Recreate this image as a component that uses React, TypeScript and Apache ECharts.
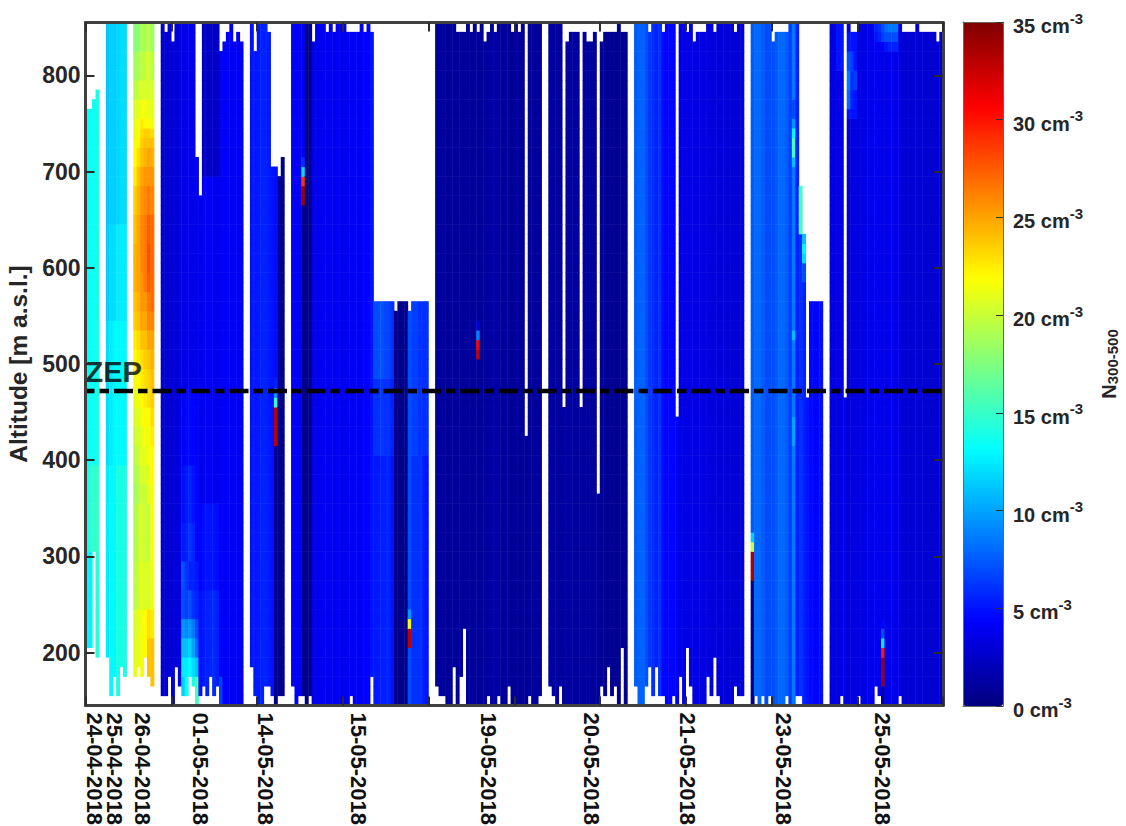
import React, { useEffect, useRef } from "react";
import * as echarts from "echarts";

const altitudes = Array.from({ length: 71 }, (_, i) => String(150 + i * 10));
const columns = Array.from({ length: 250 }, (_, i) => String(i));

const dateLabels: Record<number, string> = {
  2: "24-04-2018", 8: "25-04-2018", 16: "26-04-2018", 33: "01-05-2018", 52: "14-05-2018",
  79: "15-05-2018", 117: "19-05-2018", 147: "20-05-2018", 175: "21-05-2018", 203: "23-05-2018", 232: "25-05-2018",
};
const colourTicks = [0, 5, 10, 15, 20, 25, 30, 35];
const jet = ["#00007f", "#0000ff", "#007fff", "#00ffff", "#7fff7f", "#ffff00", "#ff7f00", "#ff0000", "#7f0000"];
const zepAltitude = 472;

// highest altitude row with data in each column (-1: no data)
const columnTop = [
  61,61,62,63,-1,-1,70,70,70,70,
  70,70,-1,-1,70,70,70,70,70,70,
  -1,-1,70,69,70,68,70,70,70,70,
  70,70,56,52,70,70,70,70,70,67,
  68,69,70,68,69,68,-1,-1,70,67,
  70,70,70,69,55,55,54,56,-1,-1,
  70,70,70,70,70,70,68,70,70,70,
  69,70,69,70,70,70,69,69,69,69,
  70,69,70,69,41,41,41,41,41,41,
  40,41,41,41,40,41,41,41,41,41,
  -1,-1,70,70,70,70,70,70,69,69,
  69,70,69,70,69,70,68,69,70,69,
  70,70,70,70,69,70,69,70,27,70,
  70,70,70,-1,-1,70,70,70,70,30,
  68,69,69,69,30,69,68,68,69,21,
  68,69,69,69,69,70,69,69,-1,-1,
  70,70,70,70,69,70,70,70,69,70,
  70,70,29,70,70,69,70,68,69,69,
  69,70,70,69,70,70,70,70,70,69,
  70,70,-1,-1,70,70,70,70,70,70,
  68,69,69,69,69,70,70,70,53,48,
  31,41,41,41,41,-1,-1,70,70,70,
  70,31,70,69,69,70,70,70,70,70,
  70,70,70,70,70,70,70,70,69,69,
  69,69,70,69,69,69,69,69,68,69,
];

// lowest altitude row with data in each column
const columnBottom = [
  6,6,16,5,0,0,5,1,3,1,
  4,3,0,0,3,4,3,5,3,2,
  0,0,1,1,3,0,4,2,1,1,
  3,2,0,1,2,1,3,1,2,0,
  0,0,0,0,0,0,0,0,4,1,
  0,0,2,2,1,0,1,1,0,0,
  2,0,1,1,0,1,0,0,0,0,
  0,0,0,0,0,0,0,1,0,0,
  0,0,0,3,0,0,0,0,0,0,
  0,0,0,0,0,0,0,0,0,0,
  0,0,2,1,1,0,0,4,0,3,
  8,0,0,0,0,0,0,1,0,0,
  1,0,0,2,0,0,0,0,0,1,
  0,0,1,0,0,2,1,0,2,0,
  0,0,0,0,0,0,0,0,0,0,
  2,1,4,1,2,0,6,0,0,0,
  2,0,0,2,4,1,4,1,1,0,
  0,1,0,3,0,6,2,0,0,0,
  0,3,1,5,1,0,0,0,0,2,
  1,1,0,0,0,1,0,1,0,1,
  0,0,0,0,1,0,0,1,1,0,
  0,0,0,0,0,0,0,0,0,0,
  1,0,0,0,0,1,0,0,0,0,
  2,1,0,0,0,0,0,1,0,0,
  0,0,0,0,0,0,0,0,0,0,
];

// typical concentration of each column
const columnBase = [
  13.2,13.5,13.5,14,0,0,12,12,12,12.5,
  12.5,12.5,0,0,20,20,20,20,20,20,
  0,0,2.8,2.8,3,3,3.1,3.3,3.6,3.6,
  3.7,3.7,3.9,3.9,3.8,4.2,4,4,3.8,4,
  4.2,4.2,4.1,4.2,4,3.8,0,0,5,5.2,
  5.2,5.5,5.5,5.2,5,4.8,0.5,0.5,0,0,
  4.2,4.2,4,4,0.4,0.4,3.6,3.8,3.9,4,
  3.8,3.9,3.7,4,3.8,3.9,3.9,4.2,4,4.2,
  4.2,4.4,4.4,5,7,7.2,7.5,6.5,6.5,6,
  0.4,0.4,0.4,0.4,7,6.5,6.5,6,6,6,
  0,0,1,1,1,0.9,1,1.1,1,1,
  0.9,1,1,0.9,1,1,1.1,1.1,1.3,1.3,
  1.1,1,1,1,0.9,1,0.9,0.9,0.9,1,
  1,1,1,0,0,1.2,1.2,1.2,1.2,1,
  1.2,1.2,1.1,1.1,1,1.1,1.1,1,1,1,
  0.9,0.8,0.8,0.7,0.7,0.7,0.7,0.7,0,0,
  7.5,7.8,7.8,7.2,6.2,6,5.5,6,4.6,4.5,
  4.5,4.5,4,3.6,3.6,3.5,3.5,3.6,3.5,3.4,
  3.4,3.3,3.2,3.2,3.2,3.2,3.1,3.1,3,3,
  3,3,0,0,7.5,8,8,7.5,7,7,
  7,7.5,8,8,7.5,6.5,8.5,5.5,6,5.5,
  5,4.6,4.5,4.5,4.8,0,0,3.4,3.4,3.4,
  3.6,3.5,3,3.2,3.4,3.4,3.5,3.6,3.7,3.8,
  4,3.8,3.6,3.6,3.8,3.8,3.6,3.4,3,2.9,
  2.9,3,3,3,2.9,2.9,2.8,2.8,3,3,
];

// [first column, first row, last row, value of each consecutive column]
const profileBands: [number, number, number, number[]][] = [
  // 24-04
  [0, 5, 15, [12.8, 12.8, 13, 14.5]],
  [0, 16, 24, [13.8, 14.4, 14.8, 15]],
  [0, 25, 63, [13.2, 13.5, 13.5, 14]],
  // 25-04
  [6, 50, 70, [11.2, 11.5, 11.5, 11.8, 12, 12]],
  [6, 40, 49, [11.5, 12, 12, 12.5, 12.5, 12.5]],
  [6, 25, 39, [12, 12.5, 13, 13, 13, 13]],
  [6, 1, 24, [12.5, 13, 13, 14, 14, 14]],
  // 26-04
  [14, 68, 70, [17.5, 18, 19, 19, 19.5, 18.5]],
  [14, 65, 67, [18.5, 19, 19.5, 20, 20.5, 19.5]],
  [14, 63, 64, [19.5, 20, 20.5, 20.5, 20.5, 20.5]],
  [14, 61, 62, [20.5, 21, 21.5, 21.5, 21, 21]],
  [14, 60, 60, [21, 21.5, 22.5, 22, 22, 21.5]],
  [14, 59, 59, [21, 22, 23, 23.5, 23.5, 23]],
  [14, 58, 58, [21.5, 22, 23.5, 24, 24, 24]],
  [14, 56, 57, [22, 23, 24, 24.5, 25, 24.5]],
  [14, 54, 55, [22.5, 24, 25, 25.5, 25.5, 25.5]],
  [14, 51, 53, [23.5, 24.5, 25.5, 26, 26.5, 26]],
  [14, 48, 50, [24, 25, 26, 26.5, 27.5, 27]],
  [14, 45, 47, [24.5, 25, 26, 26.5, 28, 27]],
  [14, 43, 44, [24.5, 25, 25.5, 26.5, 27.5, 27]],
  [14, 41, 42, [24, 24.5, 25.5, 25.5, 26.5, 27]],
  [14, 39, 40, [23.5, 24, 25, 25, 26, 26]],
  [14, 37, 38, [22.5, 23, 24, 24, 25, 25]],
  [14, 35, 36, [22, 22.5, 23, 23.5, 24, 24.5]],
  [14, 33, 34, [21.5, 22, 22.5, 23, 23.5, 24]],
  [14, 31, 32, [21, 21.5, 22, 22.5, 23, 23.5]],
  [14, 29, 30, [20.5, 21, 21.5, 22, 22, 23]],
  [14, 27, 28, [20, 20.5, 21, 21.5, 21.5, 22.5]],
  [14, 25, 26, [19.5, 20, 21, 21, 21.5, 22]],
  [14, 23, 24, [19, 19.5, 20.5, 20.5, 21, 22]],
  [14, 21, 22, [18.5, 19.5, 20, 20, 21, 21.5]],
  [14, 15, 20, [19, 20, 20.5, 20, 20, 21.5]],
  [14, 10, 14, [19.5, 20, 21, 20.5, 20.5, 21.5]],
  [14, 7, 9, [20.5, 21, 21.5, 22, 23, 22.5]],
  [14, 2, 6, [21, 21, 21.5, 22, 24, 24]],
  // 01-05 low-level plume
  [28, 25, 32, [4.4, 4.6, 4.6, 4.4, 4.2]],
  [28, 19, 24, [4.8, 5.2, 5.6, 5, 4.5]],
  [28, 15, 18, [5.2, 5.5, 6.2, 5.5, 4.5]],
  [28, 12, 14, [7.2, 6, 5.5, 5.5, 5.2]],
  [28, 9, 11, [7, 6.5, 7, 6, 5.6]],
  [28, 7, 8, [9.5, 9, 9.5, 8.5, 7]],
  [28, 5, 6, [11, 11, 11.5, 10, 8]],
  [28, 3, 4, [12.5, 12.5, 13, 12, 11]],
  [28, 0, 2, [11.5, 13.5, 13, 14, 15.5]],
  [34, 55, 70, [2.4, 2.4, 2.4, 2.5, 2.5]],
  [33, 12, 20, [4.4, 4.8, 5, 5, 5, 4.8]],
  [33, 0, 11, [4.8, 5.2, 5.5, 5.6, 5.8, 5.4]],
  [39, 0, 2, [6.5]],
  // 15-05 block, lower part
  [84, 34, 41, [7, 7, 7.2, 6.8, 6.6, 6]],
  [84, 26, 33, [6, 6, 6.3, 6, 6, 5.5]],
  [84, 0, 25, [5.2, 5.2, 5.4, 5.5, 5.5, 5]],
  [95, 0, 25, [6, 6, 6, 5.5, 5]],
  // high-level patches on 25-05
  [222, 68, 69, [5, 5, 5]],
  [222, 66, 67, [7, 6.5, 5]],
  [222, 64, 65, [8.5, 6, 6.5]],
  [222, 62, 63, [8, 5.5, 5]],
  [222, 61, 61, [5, 5, 5]],
  [219, 66, 70, [5, 5]],
  [230, 70, 70, [5.5, 6, 7, 8, 8.5, 8.5, 8.5]],
  [230, 69, 69, [5, 5.5, 6.5, 7, 7, 7, 7]],
  [230, 68, 68, [4, 4, 4.2, 5, 5.5, 5.5, 5.5]],
  // spikes and dark columns
  [63, 0, 51, [0.4]],
  [63, 57, 70, [4]],
  [63, 56, 56, [6]],
  [63, 55, 55, [12]],
  [63, 54, 54, [29]],
  [63, 52, 53, [34]],
  [55, 0, 26, [0.5]],
  [55, 27, 30, [33]],
  [55, 31, 31, [15]],
  [55, 32, 32, [9.5]],
  [55, 33, 33, [5.5]],
  [114, 39, 39, [3]],
  [114, 38, 38, [8.8]],
  [114, 37, 37, [31]],
  [114, 36, 36, [33]],
  [94, 9, 9, [9.5]],
  [94, 8, 8, [21.5]],
  [94, 6, 7, [33]],
  [194, 0, 12, [0.5]],
  [194, 13, 15, [33.5]],
  [194, 16, 16, [20]],
  [194, 17, 17, [11.5]],
  [232, 0, 1, [1]],
  [232, 2, 4, [34]],
  [232, 5, 5, [30]],
  [232, 6, 6, [12.5]],
  [232, 7, 7, [7]],
  [232, 8, 8, [4.5]],
  // 23-05 upper edge
  [206, 61, 62, [7]],
  [206, 60, 60, [9.5]],
  [206, 59, 59, [13]],
  [206, 57, 58, [15.5]],
  [206, 56, 56, [11]],
  [206, 38, 38, [11]],
  [206, 27, 29, [10]],
  [208, 49, 53, [15.5]],
  [209, 48, 48, [11]],
  [209, 47, 47, [13]],
  [209, 46, 46, [12]],
  [209, 44, 45, [7]],
];

function buildCells(): [number, number, number][] {
  const grid = columnBase.map((v) => altitudes.map(() => v));
  for (const [first, rowFrom, rowTo, values] of profileBands) {
    values.forEach((v, i) => {
      for (let r = rowFrom; r <= rowTo; r++) grid[first + i][r] = v;
    });
  }
  const cells: [number, number, number][] = [];
  columnTop.forEach((top, c) => {
    if (top < 0) return;
    for (let r = columnBottom[c]; r <= top; r++) cells.push([c, r, grid[c][r]]);
  });
  return cells;
}

const AXIS_GREY = "#404040";
const TICK = "#2b2b2b";
const TEXT = "#262626";

export default function App() {
  const ref = useRef<HTMLDivElement>(null);
  useEffect(() => {
    const chart = echarts.init(ref.current!, null, { renderer: "svg" });
    const sideX = (position: string, labels: boolean) => ({
      type: "category" as const,
      gridIndex: 0,
      position,
      data: columns,
      boundaryGap: true,
      z: 10,
      axisLine: { show: true, onZero: false, lineStyle: { color: AXIS_GREY, width: 3 } },
      axisTick: {
        show: true,
        inside: true,
        length: 9,
        alignWithLabel: false,
        interval: (i: number) => i % 25 === 0,
        lineStyle: { color: TICK, width: 2 },
      },
      axisLabel: labels
        ? {
            show: true,
            rotate: -90,
            margin: 7,
            lineHeight: 16,
            showMinLabel: true,
            showMaxLabel: true,
            // column 0 carries an empty label, so that the first date is not taken for the axis's minimum label
            interval: (i: number) => i === 0 || dateLabels[i] !== undefined,
            formatter: (_: string, i: number) => dateLabels[i] ?? "",
            fontFamily: "Liberation Sans",
            fontWeight: "bold" as const,
            fontSize: 22,
            color: "#111111",
          }
        : { show: false },
      splitLine: { show: false },
    });
    const sideY = (position: string, labels: boolean) => ({
      type: "category" as const,
      gridIndex: 0,
      position,
      data: altitudes,
      boundaryGap: true,
      z: 10,
      axisLine: { show: true, onZero: false, lineStyle: { color: AXIS_GREY, width: 3 } },
      axisTick: {
        show: true,
        inside: true,
        length: 9,
        alignWithLabel: true,
        interval: (_: number, v: string) => Number(v) % 100 === 0,
        lineStyle: { color: TICK, width: 2 },
      },
      axisLabel: labels
        ? {
            show: true,
            margin: 5,
            interval: (_: number, v: string) => Number(v) % 100 === 0,
            fontFamily: "Liberation Sans",
            fontWeight: "bold" as const,
            fontSize: 23,
            color: TEXT,
          }
        : { show: false },
      splitLine: { show: false },
      ...(labels
        ? {
            name: "Altitude [m a.s.l.]",
            nameLocation: "middle" as const,
            nameGap: 53,
            nameTextStyle: { fontFamily: "Liberation Sans", fontWeight: "bold" as const, fontSize: 24.5, color: TEXT },
          }
        : {}),
    });
    const barLine = { show: true, onZero: false, lineStyle: { color: "#666666", width: 1 } };
    chart.setOption({
      animation: false,
      backgroundColor: "#ffffff",
      grid: [
        { left: 85.5, top: 22.5, width: 857.5, height: 683, outerBoundsMode: "none" },
        { left: 963, top: 22, width: 40, height: 684, outerBoundsMode: "none" },
      ],
      xAxis: [
        sideX("bottom", true),
        sideX("top", false),
        { type: "value", gridIndex: 0, min: 0, max: 250, show: false },
        { type: "value", gridIndex: 1, min: 0, max: 1, position: "bottom", z: 10, axisLine: barLine, axisTick: { show: false }, axisLabel: { show: false }, splitLine: { show: false } },
        { type: "value", gridIndex: 1, min: 0, max: 1, position: "top", z: 10, axisLine: barLine, axisTick: { show: false }, axisLabel: { show: false }, splitLine: { show: false } },
      ],
      yAxis: [
        sideY("left", true),
        sideY("right", false),
        { type: "value", gridIndex: 0, min: 145, max: 855, show: false },
        {
          type: "value",
          gridIndex: 1,
          position: "right",
          min: colourTicks[0],
          max: colourTicks[colourTicks.length - 1],
          interval: 5,
          z: 10,
          axisLine: barLine,
          axisTick: { show: true, inside: true, length: 7, lineStyle: { color: "#333333", width: 1 } },
          splitLine: { show: false },
          axisLabel: {
            show: true,
            margin: 10,
            formatter: (v: number) => `{a|${v} cm}{b|-3}`,
            rich: {
              a: { fontFamily: "Liberation Sans", fontWeight: "bold", fontSize: 20, color: TEXT, padding: [8, 0, 0, 0] },
              b: { fontFamily: "Liberation Sans", fontWeight: "bold", fontSize: 15, color: TEXT, padding: [0, 0, 8, 0] },
            },
          },
          name: "{n|N}{s|300-500}",
          nameLocation: "middle",
          nameRotate: 90,
          nameGap: 94,
          nameTextStyle: {
            rich: {
              n: { fontFamily: "Liberation Sans", fontWeight: "bold", fontSize: 20, color: TEXT },
              s: { fontFamily: "Liberation Sans", fontWeight: "bold", fontSize: 15, color: TEXT, padding: [8, 0, 0, 0] },
            },
          },
        },
        { type: "value", gridIndex: 1, position: "left", min: 0, max: 35, z: 10, axisLine: barLine, axisTick: { show: false }, axisLabel: { show: false }, splitLine: { show: false } },
      ],
      visualMap: {
        type: "continuous",
        seriesIndex: 0,
        min: 0,
        max: 35,
        calculable: false,
        hoverLink: false,
        orient: "vertical",
        left: 963,
        top: 22,
        padding: 0,
        itemWidth: 40,
        itemHeight: 684,
        text: null,
        showLabel: false,
        inRange: { color: jet },
      },
      series: [
        {
          type: "heatmap",
          xAxisIndex: 0,
          yAxisIndex: 0,
          data: buildCells(),
          progressive: 0,
          silent: true,
          itemStyle: { borderWidth: 0 },
        },
        {
          type: "line",
          xAxisIndex: 2,
          yAxisIndex: 2,
          data: [[0, zepAltitude], [250, zepAltitude]],
          symbol: "none",
          silent: true,
          lineStyle: { color: "#000000", width: 4.5, type: [19, 5, 9.5, 5], dashOffset: 10 },
        },
        {
          type: "scatter",
          xAxisIndex: 2,
          yAxisIndex: 2,
          data: [[0, zepAltitude]],
          symbolSize: 0,
          silent: true,
          label: {
            show: true,
            formatter: "ZEP",
            position: "right",
            distance: 0,
            offset: [0, -19],
            fontFamily: "Liberation Sans",
            fontWeight: "bold",
            fontSize: 29,
            color: "#000000",
          },
        },
      ],
    });
    return () => chart.dispose();
  }, []);
  return <div ref={ref} style={{ position: "fixed", left: 0, top: 0, width: 1126, height: 826 }} />;
}
